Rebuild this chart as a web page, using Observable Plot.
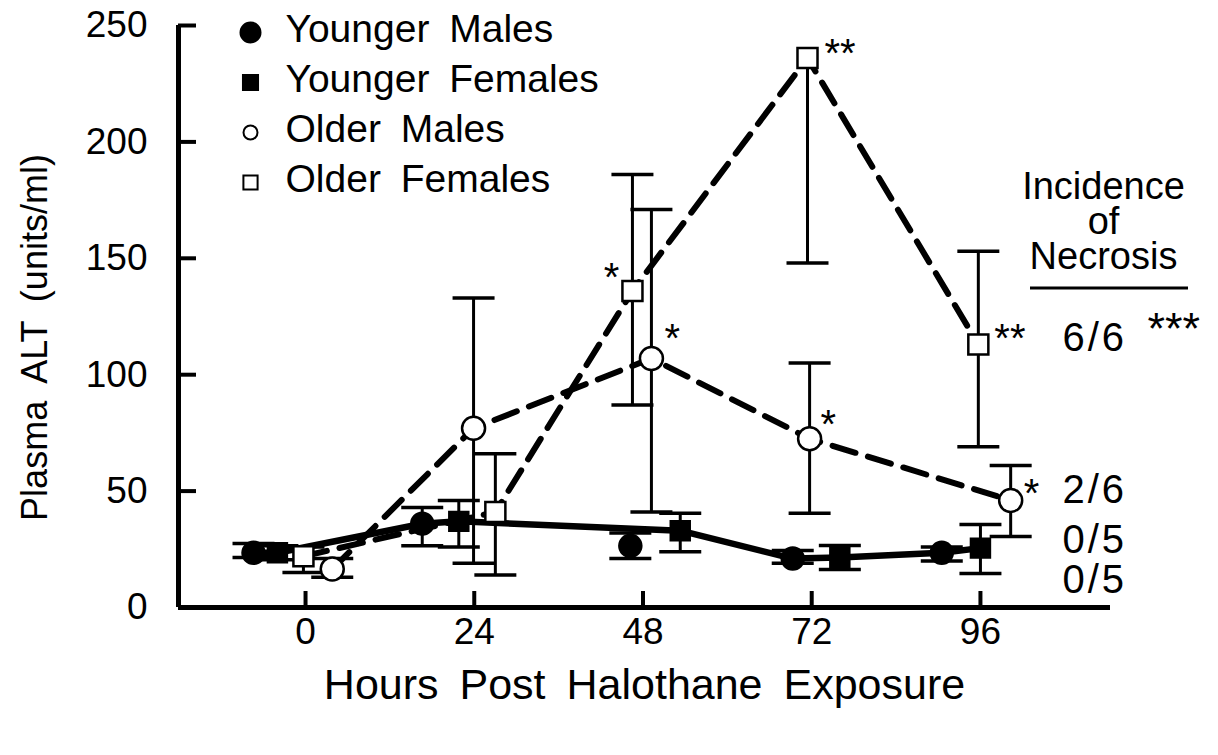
<!DOCTYPE html>
<html>
<head>
<meta charset="utf-8">
<script src="https://cdn.jsdelivr.net/npm/d3@7"></script>
<script src="https://cdn.jsdelivr.net/npm/@observablehq/plot@0.6"></script>
<style>
  html, body { margin: 0; padding: 0; background: #fff; }
  #chart svg { display: block; }
  #chart svg text { word-spacing: 9px; }
</style>
</head>
<body>
<div id="chart"></div>
<script>
// ---------------- data ----------------
const hourTicks = [0, 24, 48, 72, 96];
const altTicks = [0, 50, 100, 150, 200, 250];
const groups = ["Younger Males", "Younger Females", "Older Males", "Older Females"];

// plotted hour positions (groups are offset around each sampling time, as in the figure)
const ymHours = [-7.4, 16.6, 46.2, 69.3, 90.5];
const ymALT   = [23.5, 36, 26.5, 21, 23.5];
const ymLo    = [21.5, 26.5, 21, 19, 20];
const ymHi    = [27.5, 43, 32, 24.5, 26];

const yfHours = [-4.0, 21.8, 53.3, 76.0, 96.0];
const yfALT   = [23.5, 37, 33, 21.5, 25.5];
const yfLo    = [20.5, 26, 24, 16.3, 14.6];
const yfHi    = [26.5, 46, 40.5, 26.6, 35.7];

const omHours = [3.8, 23.9, 49.2, 71.7, 100.3];
const omALT   = [16.5, 77, 107, 72.5, 46];
const omLo    = [13, 19, 41, 40.5, 30.5];
const omHi    = [21, 133, 171, 105, 61];
const omStars = ["", "", "*", "*", "*"];

const ofHours = [-0.3, 27.0, 46.5, 71.4, 95.7];
const ofALT   = [22, 41, 136, 236, 113];
const ofLo    = [15, 14, 87, 148, 69];
const ofHi    = [26, 66, 186, null, 153];
const ofStars = ["", "", "*", "**", "**"];

const necrosisHeader = "Incidence\nof\nNecrosis";
const necrosisOF = "6/6";
const necrosisOFStars = "***";
const necrosisOM = "2/6";
const necrosisYF = "0/5";
const necrosisYM = "0/5";

const xTitle = "Hours Post Halothane Exposure";
const yTitle = "Plasma ALT (units/ml)";

// ---------------- build tables ----------------
function rows(group, hours, alt, lo, hi, stars) {
  return hours.map((h, i) => ({group, i, h, alt: alt[i], lo: lo[i], hi: hi[i], stars: stars ? stars[i] : ""}));
}
const ym = rows(groups[0], ymHours, ymALT, ymLo, ymHi);
const yf = rows(groups[1], yfHours, yfALT, yfLo, yfHi);
const om = rows(groups[2], omHours, omALT, omLo, omHi, omStars);
const of = rows(groups[3], ofHours, ofALT, ofLo, ofHi, ofStars);
const all = [...ym, ...yf, ...om, ...of];

// the solid line of the figure runs through the younger groups (it passes above the 48 h male point)
const youngLine = [...ym, ...yf]
  .filter(d => !(d.group === groups[0] && d.i === 2))
  .sort((a, b) => a.h - b.h);

// horizontal cap symbol for error bars
const cap = {draw(ctx, size) { const w = Math.sqrt(size / Math.PI); ctx.moveTo(-w, 0); ctx.lineTo(w, 0); }};

const xDomain = [-18.07, 114.5];
const font = "'Liberation Sans', Arial, Helvetica, sans-serif";

const styleOf = {
  [groups[0]]: {symbol: "circle", fill: "black", r: 11, lr: 10},
  [groups[1]]: {symbol: "square", fill: "black", r: 10.7, lr: 8.5},
  [groups[2]]: {symbol: "circle", fill: "white", r: 11.5, lr: 7},
  [groups[3]]: {symbol: "square", fill: "white", r: 11.3, lr: 8}
};

// star placement (offsets of the star text relative to its point)
const starOffset = {
  [groups[3] + 2]: [-13, -13, "end"],
  [groups[2] + 2]: [13, -19, "start"],
  [groups[3] + 3]: [17, -4, "start"],
  [groups[2] + 3]: [11, -14, "start"],
  [groups[3] + 4]: [16, -5, "start"],
  [groups[2] + 4]: [13, -6, "start"]
};

const marks = [];

// axes lines
marks.push(Plot.ruleX([xDomain[0]], {strokeWidth: 5, stroke: "black"}));
marks.push(Plot.ruleY([0], {strokeWidth: 5, stroke: "black", x1: xDomain[0], x2: xDomain[1]}));
// inward ticks
const plotW = 1218 - 178 - 108, plotH = 755 - 25 - 148;
marks.push(Plot.tickY(altTicks, {y: d => d, strokeWidth: 4, insetRight: plotW - 18, stroke: "black"}));
marks.push(Plot.tickX(hourTicks, {x: d => d, strokeWidth: 4, insetTop: plotH - 16, stroke: "black"}));
// tick labels
marks.push(Plot.text(altTicks, {y: d => d, text: d => String(d), frameAnchor: "left", dx: -31, textAnchor: "end", lineAnchor: "middle", fontSize: 37, fill: "black"}));
marks.push(Plot.text(hourTicks, {x: d => d, text: d => String(d), frameAnchor: "bottom", dy: 25, lineAnchor: "middle", fontSize: 37, fill: "black"}));
// axis titles
marks.push(Plot.text([xTitle], {x: null, y: null, text: d => d, frameAnchor: "bottom", dy: 78, textAnchor: "middle", lineAnchor: "middle", fontSize: 43, fill: "black"}));
marks.push(Plot.text([yTitle], {x: null, y: null, text: d => d, frameAnchor: "left", dx: -143, dy: 21, rotate: -90, textAnchor: "middle", lineAnchor: "middle", fontSize: 36, fill: "black"}));

// error bars
marks.push(Plot.ruleX(all, {x: "h", y1: "lo", y2: d => d.hi ?? d.alt, strokeWidth: 3, stroke: "black"}));
marks.push(Plot.dot(all.filter(d => d.hi != null), {x: "h", y: "hi", symbol: cap, r: 21, stroke: "black", strokeWidth: 3.5, fill: "none"}));
marks.push(Plot.dot(all, {x: "h", y: "lo", symbol: cap, r: 21, stroke: "black", strokeWidth: 3.5, fill: "none"}));

// lines
marks.push(Plot.line(om, {x: "h", y: "alt", stroke: "black", strokeWidth: 6, strokeDasharray: "24,13"}));
marks.push(Plot.line(of, {x: "h", y: "alt", stroke: "black", strokeWidth: 6, strokeDasharray: "24,13"}));
marks.push(Plot.line(youngLine, {x: "h", y: "alt", stroke: "black", strokeWidth: 6.5}));

// markers
for (const g of groups) {
  const s = styleOf[g];
  marks.push(Plot.dot(all.filter(d => d.group === g), {x: "h", y: "alt", symbol: s.symbol, r: s.r, fill: s.fill, stroke: "black", strokeWidth: 2.5}));
}

// significance stars
for (const d of [...om, ...of].filter(d => d.stars)) {
  const [dx, dy, anchor] = starOffset[d.group + d.i];
  marks.push(Plot.text([d], {x: "h", y: "alt", text: "stars", dx, dy, textAnchor: anchor, lineAnchor: "middle", fontSize: 40, fill: "black"}));
}

// legend
groups.forEach((g, i) => {
  const s = styleOf[g];
  marks.push(Plot.dot([g], {x: null, y: null, frameAnchor: "top-left", dx: 72, dy: 7 + 50 * i, symbol: s.symbol, r: s.lr, fill: s.fill, stroke: "black", strokeWidth: 2}));
  marks.push(Plot.text([g], {x: null, y: null, text: d => d, frameAnchor: "top-left", dx: 107, dy: 4 + 50 * i, textAnchor: "start", lineAnchor: "middle", fontSize: 39, fill: "black"}));
});

// incidence of necrosis annotation
marks.push(Plot.text([necrosisHeader], {x: null, y: null, text: d => d, frameAnchor: "top-right", dx: -7, dy: 197, textAnchor: "middle", lineAnchor: "middle", lineHeight: 0.92, fontSize: 38, fill: "black"}));
const lastOf = of[of.length - 1], lastOm = om[om.length - 1], lastYf = yf[yf.length - 1], lastYm = ym[ym.length - 1];
marks.push(Plot.text([lastOf], {y: "alt", text: () => necrosisOF, frameAnchor: "right", dx: -48, dy: -6, textAnchor: "start", lineAnchor: "middle", fontSize: 40, fill: "black"}));
marks.push(Plot.text([lastOf], {y: "alt", text: () => necrosisOFStars, frameAnchor: "right", dx: 37, dy: -15, textAnchor: "start", lineAnchor: "middle", fontSize: 45, fill: "black"}));
marks.push(Plot.text([lastOm], {y: "alt", text: () => necrosisOM, frameAnchor: "right", dx: -48, dy: -10, textAnchor: "start", lineAnchor: "middle", fontSize: 40, fill: "black"}));
marks.push(Plot.text([lastYf], {y: "alt", text: () => necrosisYF, frameAnchor: "right", dx: -48, dy: -8, textAnchor: "start", lineAnchor: "middle", fontSize: 40, fill: "black"}));
marks.push(Plot.text([lastYm], {y: "alt", text: () => necrosisYM, frameAnchor: "right", dx: -48, dy: 27, textAnchor: "start", lineAnchor: "middle", fontSize: 40, fill: "black"}));

const chart = Plot.plot({
  width: 1218,
  height: 755,
  marginLeft: 178,
  marginRight: 108,
  marginTop: 25,
  marginBottom: 148,
  x: {domain: xDomain, axis: null},
  y: {domain: [0, 250], axis: null},
  style: {fontFamily: font, background: "white", color: "black", overflow: "visible"},
  marks
});
document.getElementById("chart").appendChild(chart);

// slightly wider glyph spacing for the incidence ratios, as in the figure
d3.select(chart).selectAll("text").filter(function() { return /^\d\/\d$/.test(this.textContent); })
  .attr("letter-spacing", 3);

// underline below the "Necrosis" heading
d3.select(chart).append("line")
  .attr("x1", 1030).attr("x2", 1188).attr("y1", 288).attr("y2", 288)
  .attr("stroke", "black").attr("stroke-width", 3);
</script>
</body>
</html>
